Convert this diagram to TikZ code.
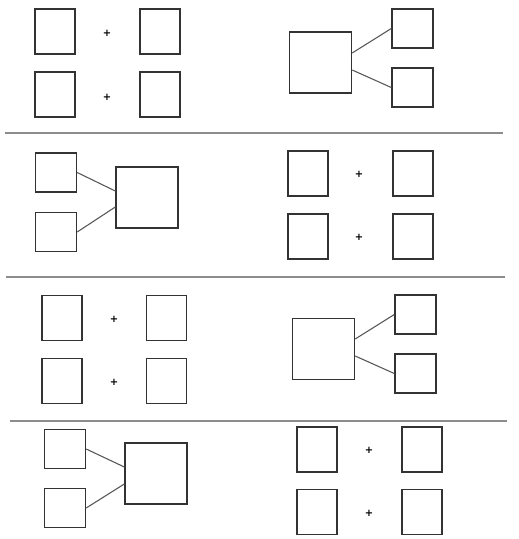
\documentclass[tikz,border=0pt]{standalone}
\usepackage{tikz}
\usepackage{fontspec}
\newfontfamily\plusfont{DejaVu Sans}

\tikzset{
  sq/.style={draw=black!80, line width=1.4pt, minimum width=40pt, minimum height=45pt, inner sep=0pt},
  sm/.style={draw=black!80, line width=1.4pt, minimum width=41pt, minimum height=39pt, inner sep=0pt},
  big/.style={draw=black!80, line width=1.4pt, minimum width=62pt, minimum height=61pt, inner sep=0pt},
  plus/.style={font=\plusfont\bfseries\fontsize{10}{10}\selectfont, inner sep=0pt},
  link/.style={draw=black!65, line width=1.1pt},
  rule/.style={draw=black!45, line width=2pt}
}

\begin{document}
\begin{tikzpicture}[x=1pt, y=-1pt]
\useasboundingbox (0,0) rectangle (519,539);

\node[sq] (aa1) at (55,31.5) {};
\node[sq] (ab1) at (160,31.5) {};
\node[sq] (aa2) at (55,94.5) {};
\node[sq] (ab2) at (160,94.5) {};
\node[plus] (ap1) at (107,33) {+};
\node[plus] (ap2) at (107,97) {+};

\node[big] (bbig) at (320.5,62.5) {};
\node[sm] (bs1) at (412.5,28.5) {};
\node[sm] (bs2) at (412.5,87.5) {};
\draw[link] ([yshift=9.5pt]bbig.east) -- (bs1.west);
\draw[link] ([yshift=-7.5pt]bbig.east) -- (bs2.west);

\coordinate (r1a) at (5,133);
\coordinate (r1b) at (503,133);
\draw[rule] (r1a) -- (r1b);

\node[sm] (cs1) at (56,172.5) {};
\node[sm] (cs2) at (56,232) {};
\node[big] (cbig) at (147,197.5) {};
\draw[link] (cs1.east) -- ([yshift=6.5pt]cbig.west);
\draw[link] (cs2.east) -- ([yshift=-9.5pt]cbig.west);

\node[sq] (da1) at (308,173.5) {};
\node[sq] (db1) at (413,173.5) {};
\node[sq] (da2) at (308,236.5) {};
\node[sq] (db2) at (413,236.5) {};
\node[plus] (dp1) at (359,174) {+};
\node[plus] (dp2) at (359,237) {+};

\coordinate (r2a) at (6,277);
\coordinate (r2b) at (505,277);
\draw[rule] (r2a) -- (r2b);

\node[sq] (ea1) at (62,318) {};
\node[sq] (eb1) at (166.5,318) {};
\node[sq] (ea2) at (62,381) {};
\node[sq] (eb2) at (166.5,381) {};
\node[plus] (ep1) at (114,319) {+};
\node[plus] (ep2) at (114,382) {+};

\node[big] (fbig) at (323.5,349) {};
\node[sm] (fs1) at (415.5,314.5) {};
\node[sm] (fs2) at (415.5,373.5) {};
\draw[link] ([yshift=10pt]fbig.east) -- (fs1.west);
\draw[link] ([yshift=-7pt]fbig.east) -- (fs2.west);

\coordinate (r3a) at (10,421);
\coordinate (r3b) at (507,421);
\draw[rule] (r3a) -- (r3b);

\node[sm] (gs1) at (65,449) {};
\node[sm] (gs2) at (65,508) {};
\node[big] (gbig) at (156,473.5) {};
\draw[link] (gs1.east) -- ([yshift=6.5pt]gbig.west);
\draw[link] (gs2.east) -- ([yshift=-10.5pt]gbig.west);

\node[sq] (ha1) at (317,449.5) {};
\node[sq] (hb1) at (422,449.5) {};
\node[sq] (ha2) at (317,512) {};
\node[sq] (hb2) at (422,512) {};
\node[plus] (hp1) at (369,450) {+};
\node[plus] (hp2) at (369,513) {+};
\end{tikzpicture}
\end{document}
